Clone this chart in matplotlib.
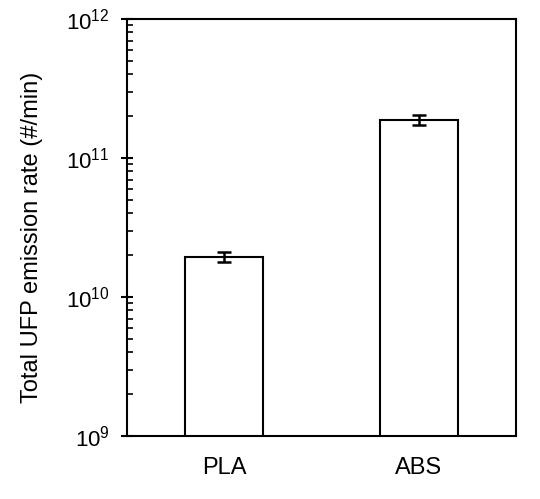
import matplotlib
matplotlib.use("Agg")
import matplotlib.pyplot as plt
from matplotlib.ticker import LogLocator, NullFormatter, LogFormatterSciNotation

plt.rcParams['font.family'] = ['Liberation Sans', 'DejaVu Sans']
plt.rcParams['mathtext.fontset'] = 'custom'
plt.rcParams['mathtext.rm'] = 'Liberation Sans'
plt.rcParams['mathtext.default'] = 'regular'

categories = ["PLA", "ABS"]
values = [1.95e10, 1.88e11]
errors = [0.15e10, 0.15e11]
ylabel = "Total UFP emission rate (#/min)"

fig = plt.figure(figsize=(5.4, 4.99), dpi=100)
ax = fig.add_axes([0.2352, 0.1263, 0.7204, 0.8356])

x = list(range(len(categories)))
ax.bar(x, values, width=0.4, color='white', edgecolor='black', linewidth=1.5, zorder=2)
ax.errorbar(x, values, yerr=errors, fmt='none', ecolor='black', elinewidth=1.8,
            capsize=5, capthick=1.8, zorder=3)

ax.set_yscale('log')
ax.set_ylim(1e9, 1e12)
ax.set_xlim(-0.5, 1.5)
ax.set_xticks(x)
ax.set_xticklabels(categories, fontsize=17)
ax.tick_params(axis='x', length=0, pad=15)

ax.yaxis.set_major_locator(LogLocator(base=10, numticks=10))
ax.yaxis.set_minor_locator(LogLocator(base=10, subs=range(2, 10), numticks=20))
ax.yaxis.set_minor_formatter(NullFormatter())
ax.yaxis.set_major_formatter(LogFormatterSciNotation())
ax.tick_params(axis='y', which='major', direction='inout', length=9, width=1.5,
               labelsize=16, pad=8)
ax.tick_params(axis='y', which='minor', direction='in', length=4, width=1.2)

for s in ax.spines.values():
    s.set_linewidth(1.5)

ax.set_ylabel(ylabel, fontsize=17)
ax.yaxis.set_label_coords(-0.216, 0.476)

fig.savefig("out.png", dpi=100, facecolor='white')
